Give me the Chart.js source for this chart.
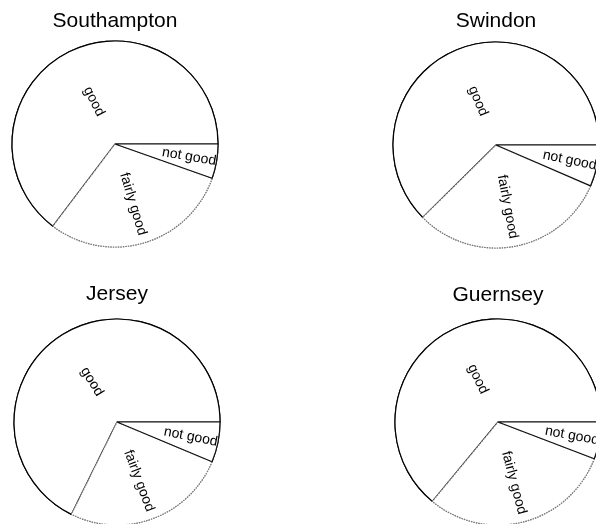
<!DOCTYPE html>
<html>
<head>
<meta charset="utf-8">
<script src="https://cdn.jsdelivr.net/npm/chart.js@4"></script>
<style>
  html, body { margin: 0; padding: 0; background: #fff; overflow: hidden; }
  #board { position: relative; width: 596px; height: 524px; overflow: hidden; }
  #board canvas { position: absolute; }
</style>
</head>
<body>
<div id="board">
  <canvas id="c0" width="298" height="262" style="left:0;top:0"></canvas>
  <canvas id="c1" width="298" height="262" style="left:298px;top:0"></canvas>
  <canvas id="c2" width="298" height="262" style="left:0;top:262px"></canvas>
  <canvas id="c3" width="298" height="262" style="left:298px;top:262px"></canvas>
</div>
<script>
// answers, in the order they go round the pie
let categories = ["good", "fairly good", "not good"];
let places = ["Southampton", "Swindon", "Jersey", "Guernsey"];

let southampton = [64.7, 29.9, 5.4];
let swindon = [62.4, 31.1, 6.5];
let jersey = [67.7, 26.0, 6.3];
let guernsey = [64.0, 30.2, 5.8];

let shares = [southampton, swindon, jersey, guernsey];

// per panel: padding that puts the pie centre where it belongs
let panels = [
  { layout: { left: 0, right: 68, top: 0, bottom: 7.6 }, title: { top: 8.4, bottom: 0 } },
  { layout: { left: 98, right: 0, top: 0, bottom: 6.1 }, title: { top: 8.9, bottom: 0 } },
  { layout: { left: 0, right: 64, top: 0, bottom: 0 }, title: { top: 19.4, bottom: 13.4 } },
  { layout: { left: 102, right: 0, top: 0, bottom: 0 }, title: { top: 20.4, bottom: 12.4 } },
];

// how far out (fraction of radius) each label sits
let labelRadius = { "good": 0.46, "fairly good": 0.61, "not good": 0.73 };

let borderColors = { "good": "#000", "fairly good": "#7a7a7a", "not good": "#111" };
let borderDashes = { "good": [], "fairly good": [1.5, 1], "not good": [] };

// Chart.js goes clockwise, so feed the slices back to front
let order = categories.slice().reverse();

// redraw the slices good -> not good so shared edges come out right
let restack = {
  id: "restack",
  afterDatasetsDraw(chart) {
    let meta = chart.getDatasetMeta(0);
    let ctx = chart.ctx;
    for (let i = meta.data.length - 1; i >= 0; i--) {
      meta.data[i].draw(ctx, chart.chartArea);
    }
  },
};

// text along each slice's middle, flipped when it would be upside down
let sliceLabels = {
  id: "sliceLabels",
  afterDatasetsDraw(chart) {
    let ctx = chart.ctx;
    let meta = chart.getDatasetMeta(0);
    let labels = chart.data.labels;
    meta.data.forEach((arc, i) => {
      let p = arc.getProps(["x", "y", "startAngle", "endAngle", "outerRadius"]);
      let mid = (p.startAngle + p.endAngle) / 2;
      let r = p.outerRadius * labelRadius[labels[i]];
      let x = p.x + Math.cos(mid) * r;
      let y = p.y + Math.sin(mid) * r;
      let a = ((mid % (2 * Math.PI)) + 2 * Math.PI) % (2 * Math.PI);
      let turn = (a > Math.PI / 2 && a < Math.PI * 1.5) ? a - Math.PI : a;
      ctx.save();
      ctx.translate(x, y);
      ctx.rotate(turn);
      ctx.font = "14px 'Liberation Sans', Arial, sans-serif";
      ctx.fillStyle = "#000";
      ctx.textAlign = "center";
      ctx.textBaseline = "middle";
      ctx.fillText(labels[i], 0, 0);
      ctx.restore();
    });
  },
};

function drawPie(n) {
  let values = order.map((c) => shares[n][categories.indexOf(c)]);
  new Chart(document.getElementById("c" + n), {
    type: "pie",
    data: {
      labels: order,
      datasets: [{
        data: values,
        backgroundColor: "#fff",
        borderColor: order.map((c) => borderColors[c]),
        borderDash: (ctx) => borderDashes[order[ctx.dataIndex]] || [],
        borderWidth: 1.2,
        clip: false,
      }],
    },
    options: {
      responsive: false,
      animation: false,
      devicePixelRatio: 1,
      rotation: 90,
      radius: 103,
      layout: { padding: panels[n].layout },
      plugins: {
        legend: { display: false },
        tooltip: { enabled: false },
        title: {
          display: true,
          text: places[n],
          color: "#000",
          font: { family: "'Liberation Sans', Arial, sans-serif", size: 21, weight: "normal" },
          padding: panels[n].title,
        },
      },
    },
    plugins: [restack, sliceLabels],
  });
}

for (let i = 0; i < places.length; i++) {
  drawPie(i);
}
</script>
</body>
</html>
